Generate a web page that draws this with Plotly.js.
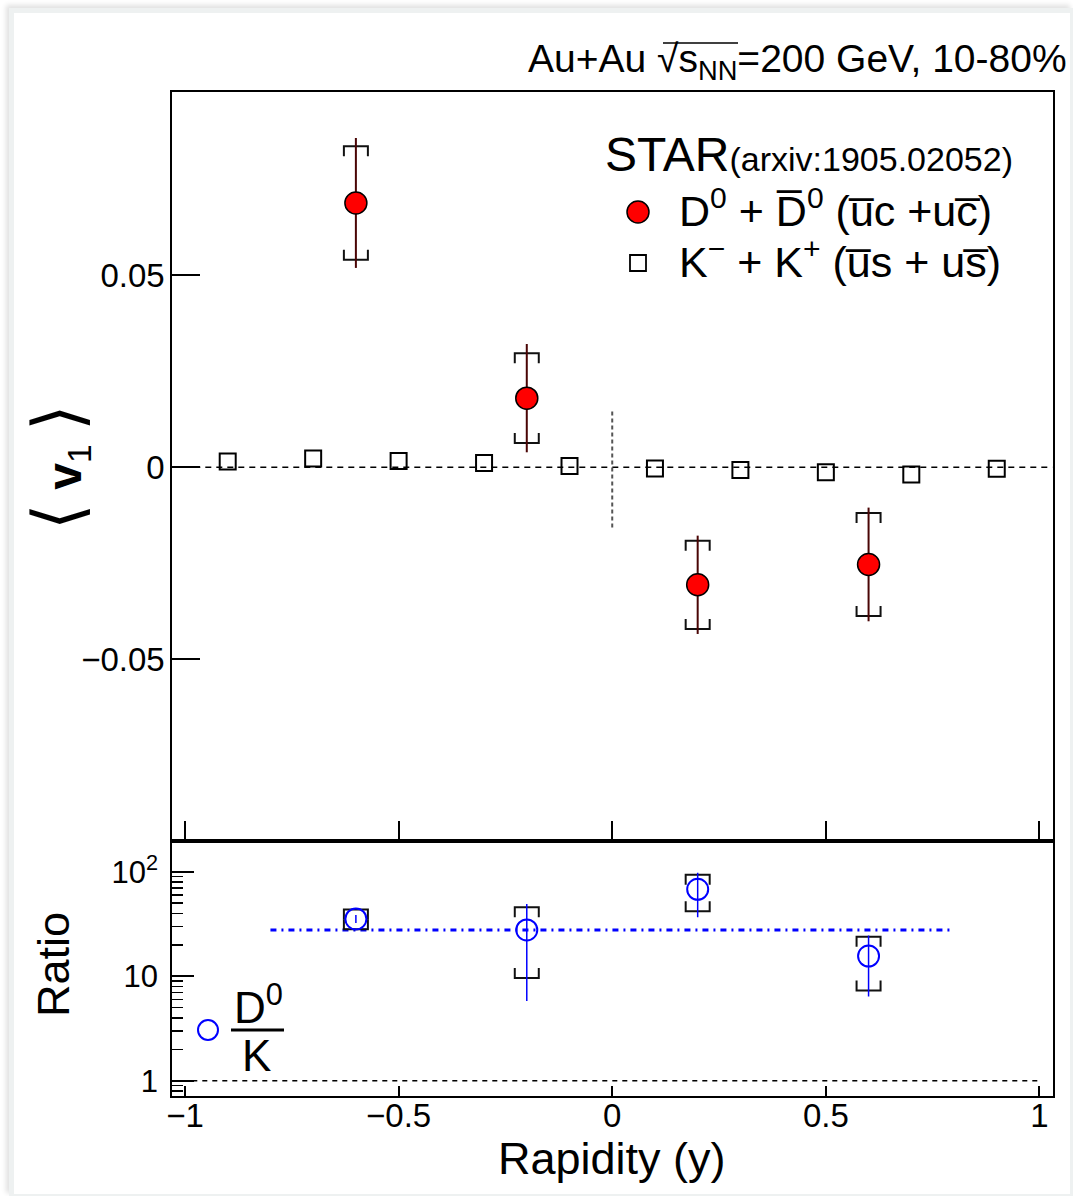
<!DOCTYPE html>
<html>
<head>
<meta charset="utf-8">
<script src="https://cdn.plot.ly/plotly-3.0.1.min.js"></script>
<style>
  html, body { margin: 0; padding: 0; background: #ffffff; }
  #wrap { position: relative; width: 1073px; height: 1196px; overflow: hidden; }
  #chart { position: absolute; left: 0; top: 0; width: 1073px; height: 1196px; }
  #edge {
    position: absolute; left: 9px; top: 8px; right: 0; bottom: 0;
    box-sizing: border-box; pointer-events: none;
    border-left: 5px solid #eef1f1; border-top: 5px solid #eef1f1;
    border-right: 3px solid #eef1f1; border-bottom: 2px solid #eef1f1;
    box-shadow: -3px -3px 5px rgba(0,0,0,0.12);
  }
</style>
</head>
<body>
<div id="wrap">
  <div id="chart"></div>
  <div id="edge"></div>
</div>
<script>
// ---- D0 + anti-D0 directed flow ----
const rapidityD = [-0.6, -0.2, 0.2, 0.6];
const v1D       = [0.0688, 0.0180, -0.0306, -0.0253];
const v1DStat   = [0.0169, 0.0141, 0.0128, 0.0148];
const v1DSys    = [0.0148, 0.0117, 0.0115, 0.0134];

// ---- K- + K+ directed flow ----
const rapidityK = [-0.9, -0.7, -0.5, -0.3, -0.1, 0.1, 0.3, 0.5, 0.7, 0.9];
const v1K       = [0.0015, 0.0023, 0.0016, 0.0011, 0.0003, -0.0003, -0.0007, -0.0013, -0.0019, -0.0004];

// ---- D0 / K slope ratio ----
const ratio         = [35.3, 27.7, 67.9, 15.6];
const ratioStatUp   = [38.5, 49.1, 97.8, 24.6];
const ratioStatLow  = [32.3, 5.8, 36.6, 6.4];
const ratioSysUp    = [43.6, 45.6, 93.6, 23.9];
const ratioSysLow   = [28.1, 9.6, 41.8, 7.3];
const ratioMean     = 27.7;
const ratioMeanSpan = [-0.8, 0.8];

// ---- axis labels ----
const xTicks        = [-1, -0.5, 0, 0.5, 1];
const v1Ticks       = [-0.05, 0, 0.05];
const ratioTicks    = [1, 10, 100];
const ratioTickText = ['1', '10', '10<sup>2</sup>'];

// ---- geometry ----
const W = 1073, H = 1196;
const px = v => v / W;
const py = v => 1 - v / H;
const xDom = [px(172.3), px(1052.5)];
const topDom = [py(841), py(92)];
const botDom = [py(1096), py(841)];
const xRange = [-1.0297, 1.0305];
const v1Range = [-0.0973, 0.0977];
const ratioLogRange = [-0.146, 2.294];

const FONT = 'Liberation Sans, Arial, Helvetica, sans-serif';

// pixel -> data conversions for the systematic bracket caps
const plotW = (xDom[1] - xDom[0]) * W;
const dxCap = 12 * (xRange[1] - xRange[0]) / plotW;
const topH = (topDom[1] - topDom[0]) * H;
const legLin = 10 * (v1Range[1] - v1Range[0]) / topH;
const botH = (botDom[1] - botDom[0]) * H;
const legLogFactor = Math.pow(10, 10 * (ratioLogRange[1] - ratioLogRange[0]) / botH);

function brackets(xs, hi, lo, upLeg, downLeg) {
  const bx = [], by = [];
  xs.forEach((x, i) => {
    bx.push(x - dxCap, x - dxCap, x + dxCap, x + dxCap, null);
    by.push(downLeg(hi[i]), hi[i], hi[i], downLeg(hi[i]), null);
    bx.push(x - dxCap, x - dxCap, x + dxCap, x + dxCap, null);
    by.push(upLeg(lo[i]), lo[i], lo[i], upLeg(lo[i]), null);
  });
  return { x: bx, y: by };
}

const sysTop = brackets(
  rapidityD,
  v1D.map((v, i) => v + v1DSys[i]),
  v1D.map((v, i) => v - v1DSys[i]),
  y => y + legLin, y => y - legLin
);
const sysBot = brackets(
  rapidityD, ratioSysUp, ratioSysLow,
  y => y * legLogFactor, y => y / legLogFactor
);

const traces = [
  // zero line in the v1 panel
  { x: xRange, y: [0, 0], xaxis: 'x', yaxis: 'y', mode: 'lines',
    line: { color: 'black', width: 1.5, dash: '6px,5px' }, hoverinfo: 'skip', showlegend: false },
  // mid-rapidity marker
  { x: [0, 0], y: [0.0145, -0.0161], xaxis: 'x', yaxis: 'y', mode: 'lines',
    line: { color: '#555555', width: 2, dash: '4px,3px' }, hoverinfo: 'skip', showlegend: false },
  // D0 systematic brackets
  { x: sysTop.x, y: sysTop.y, xaxis: 'x', yaxis: 'y', mode: 'lines',
    line: { color: '#111111', width: 2 }, hoverinfo: 'skip', showlegend: false },
  // K v1
  { name: 'K', x: rapidityK, y: v1K, xaxis: 'x', yaxis: 'y', mode: 'markers',
    marker: { symbol: 'square-open', size: 16, color: 'black', line: { width: 2 } }, showlegend: false },
  // D0 v1
  { name: 'D0', x: rapidityD, y: v1D, xaxis: 'x', yaxis: 'y', mode: 'markers',
    error_y: { type: 'data', array: v1DStat, symmetric: true, color: '#4a0505', thickness: 2, width: 0 },
    marker: { symbol: 'circle', size: 22, color: '#ff0000', line: { color: 'black', width: 1.5 } },
    showlegend: false },

  // unity line in the ratio panel
  { x: [xRange[0], 1.0], y: [1, 1], xaxis: 'x2', yaxis: 'y2', mode: 'lines',
    line: { color: 'black', width: 1.5, dash: '5px,5px' }, hoverinfo: 'skip', showlegend: false },
  // mean ratio
  { x: ratioMeanSpan, y: [ratioMean, ratioMean], xaxis: 'x2', yaxis: 'y2', mode: 'lines',
    line: { color: '#0000ff', width: 3, dash: '6px,5px,2px,5px' }, hoverinfo: 'skip', showlegend: false },
  // ratio systematic brackets
  { x: sysBot.x, y: sysBot.y, xaxis: 'x2', yaxis: 'y2', mode: 'lines',
    line: { color: '#111111', width: 2 }, hoverinfo: 'skip', showlegend: false },
  // ratio points
  { name: 'D0/K', x: rapidityD, y: ratio, xaxis: 'x2', yaxis: 'y2', mode: 'markers',
    error_y: { type: 'data', symmetric: false,
      array: ratioStatUp.map((u, i) => u - ratio[i]),
      arrayminus: ratio.map((r, i) => r - ratioStatLow[i]),
      color: '#0000ff', thickness: 1.5, width: 0 },
    marker: { symbol: 'circle-open', size: 21, color: '#0000ff', line: { width: 2 } },
    showlegend: false }
];

const axisCommon = {
  showline: true, linecolor: 'black', linewidth: 2, mirror: true,
  showgrid: false, zeroline: false, tickcolor: 'black',
  tickfont: { family: FONT, size: 33, color: 'black' }
};

const layout = {
  width: W, height: H,
  margin: { l: 0, r: 0, t: 0, b: 0 },
  paper_bgcolor: 'white', plot_bgcolor: 'white',
  showlegend: false,
  font: { family: FONT, color: 'black' },
  xaxis: Object.assign({}, axisCommon, {
    domain: xDom, range: xRange, anchor: 'y',
    tickmode: 'array', tickvals: xTicks, ticks: 'inside', ticklen: 20, tickwidth: 2,
    showticklabels: false
  }),
  yaxis: Object.assign({}, axisCommon, {
    domain: topDom, range: v1Range, anchor: 'x',
    tickmode: 'array', tickvals: v1Ticks, ticks: 'inside', ticklen: 28, tickwidth: 2,
    ticklabelstandoff: -1
  }),
  xaxis2: Object.assign({}, axisCommon, {
    domain: xDom, range: xRange, anchor: 'y2',
    tickmode: 'array', tickvals: xTicks, ticks: 'inside', ticklen: 10, tickwidth: 2,
    ticklabelstandoff: -11
  }),
  yaxis2: Object.assign({}, axisCommon, {
    type: 'log', domain: botDom, range: ratioLogRange, anchor: 'x2',
    tickmode: 'array', tickvals: ratioTicks, ticktext: ratioTickText,
    ticks: 'inside', ticklen: 22, tickwidth: 2, ticklabelstandoff: 6,
    tickfont: { family: FONT, size: 31, color: 'black' },
    minor: {
      tickmode: 'array',
      tickvals: [0.8, 0.9, 2, 3, 4, 5, 6, 7, 8, 9, 20, 30, 40, 50, 60, 70, 80, 90],
      ticks: 'inside', ticklen: 11, tickwidth: 1.5, tickcolor: 'black', showgrid: false
    }
  }),
  shapes: [
    // legend keys
    { type: 'circle', xref: 'paper', yref: 'paper', xsizemode: 'pixel', ysizemode: 'pixel',
      xanchor: px(638), yanchor: py(212), x0: -11, x1: 11, y0: -11, y1: 11,
      fillcolor: '#ff0000', line: { color: 'black', width: 1.5 } },
    { type: 'rect', xref: 'paper', yref: 'paper', xsizemode: 'pixel', ysizemode: 'pixel',
      xanchor: px(638), yanchor: py(263), x0: -8, x1: 8, y0: -8, y1: 8,
      line: { color: 'black', width: 1.8 } },
    { type: 'circle', xref: 'paper', yref: 'paper', xsizemode: 'pixel', ysizemode: 'pixel',
      xanchor: px(208), yanchor: py(1030), x0: -10, x1: 10, y0: -10, y1: 10,
      line: { color: '#0000ff', width: 2 } },
    // fraction bar of the ratio label
    { type: 'line', xref: 'paper', yref: 'paper',
      x0: px(231), x1: px(284), y0: py(1030), y1: py(1030),
      line: { color: 'black', width: 3 } },
    // radical bar over s_NN
    { type: 'line', xref: 'paper', yref: 'paper',
      x0: px(663), x1: px(738), y0: py(43), y1: py(43),
      line: { color: 'black', width: 1.5 } }
  ],
  annotations: [
    { text: 'Au+Au \u221As<sub>NN</sub>=200 GeV, 10-80%', xref: 'paper', yref: 'paper',
      x: px(1069), y: py(62), xanchor: 'right', yanchor: 'middle', showarrow: false,
      font: { family: FONT, size: 39, color: 'black' } },
    { text: 'STAR<span style="font-size:34px">(arxiv:1905.02052)</span>', xref: 'paper', yref: 'paper',
      x: px(603), y: py(155), xanchor: 'left', yanchor: 'middle', showarrow: false,
      font: { family: FONT, size: 48, color: 'black' } },
    { text: 'D<sup>0</sup> + D\u0305<sup>0</sup> (u\u0305c +uc\u0305)', xref: 'paper', yref: 'paper',
      x: px(677), y: py(208), xanchor: 'left', yanchor: 'middle', showarrow: false,
      font: { family: FONT, size: 43, color: 'black' } },
    { text: 'K<sup>\u2212</sup> + K<sup>+</sup> (u\u0305s + us\u0305)', xref: 'paper', yref: 'paper',
      x: px(677), y: py(259), xanchor: 'left', yanchor: 'middle', showarrow: false,
      font: { family: FONT, size: 43, color: 'black' } },
    { text: '<span style="font-size:68px">\u27E8</span> <b>v</b><sub>1</sub> <span style="font-size:68px">\u27E9</span>',
      xref: 'paper', yref: 'paper',
      x: px(58), y: py(467), xanchor: 'center', yanchor: 'middle', textangle: -90, showarrow: false,
      font: { family: FONT, size: 48, color: 'black' } },
    { text: 'Ratio', xref: 'paper', yref: 'paper',
      x: px(53), y: py(965), xanchor: 'center', yanchor: 'middle', textangle: -90, showarrow: false,
      font: { family: FONT, size: 45, color: 'black' } },
    { text: 'Rapidity (y)', xref: 'paper', yref: 'paper',
      x: px(612), y: py(1158), xanchor: 'center', yanchor: 'middle', showarrow: false,
      font: { family: FONT, size: 45, color: 'black' } },
    { text: 'D<sup>0</sup>', xref: 'paper', yref: 'paper',
      x: px(258), y: py(1004), xanchor: 'center', yanchor: 'middle', showarrow: false,
      font: { family: FONT, size: 44, color: 'black' } },
    { text: 'K', xref: 'paper', yref: 'paper',
      x: px(256), y: py(1055), xanchor: 'center', yanchor: 'middle', showarrow: false,
      font: { family: FONT, size: 44, color: 'black' } }
  ]
};

Plotly.newPlot('chart', traces, layout, { displayModeBar: false, staticPlot: true });
</script>
</body>
</html>
